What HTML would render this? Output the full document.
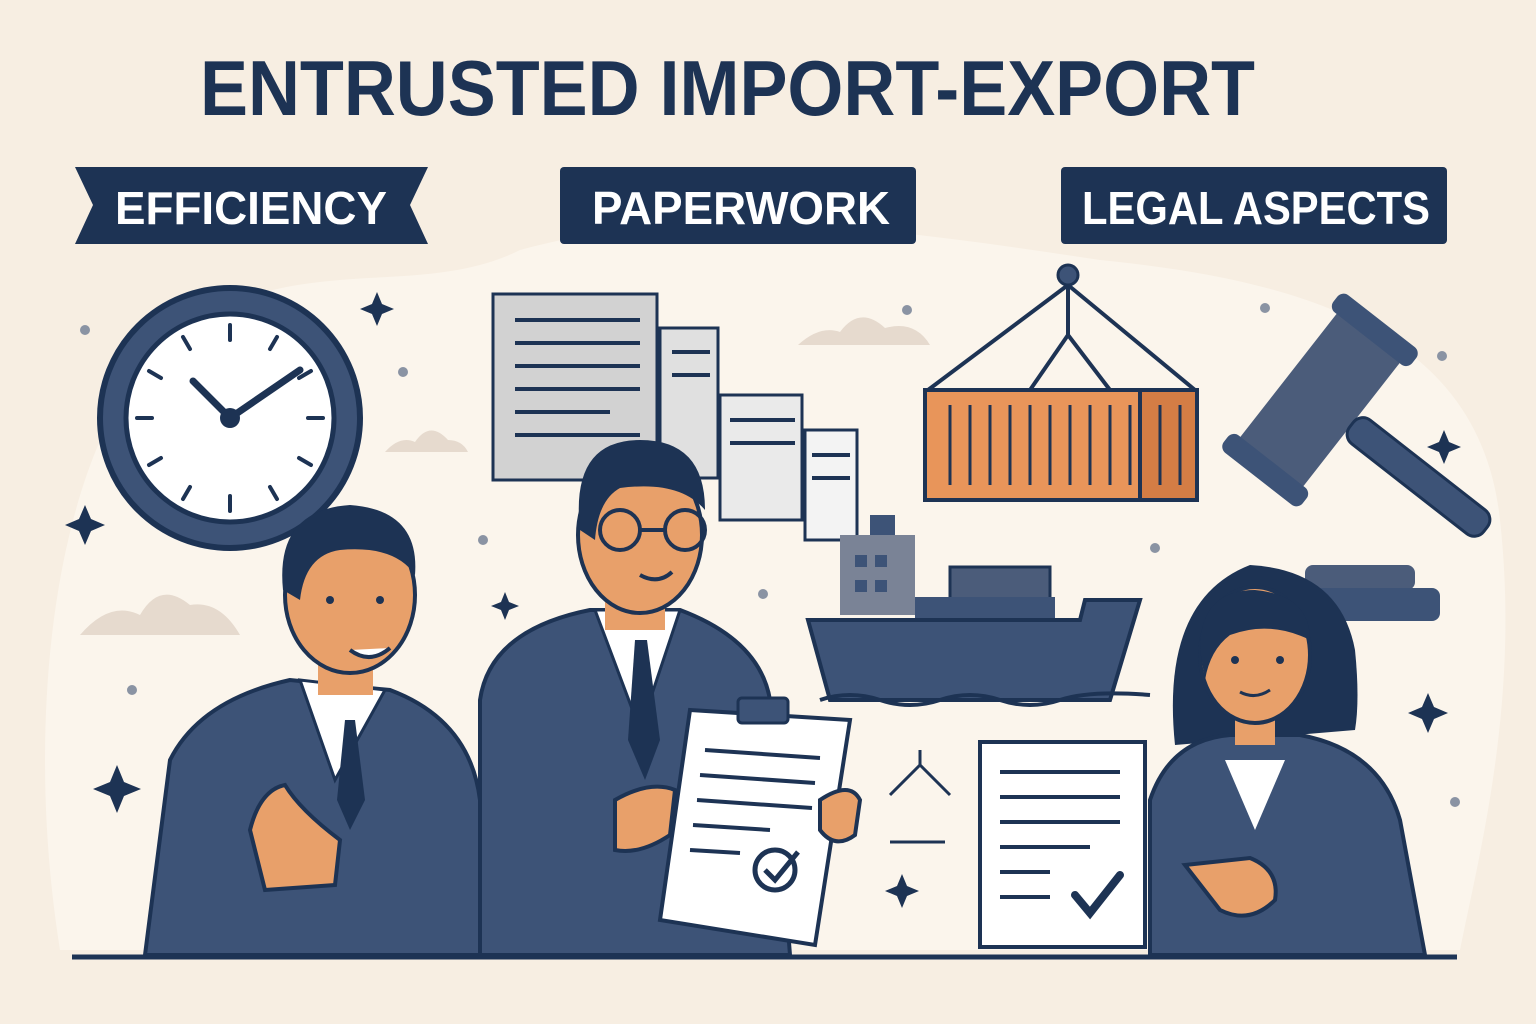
<!DOCTYPE html>
<html><head><meta charset="utf-8"><style>
html,body{margin:0;padding:0;background:#f7eee2;}
svg{display:block}
text{font-family:"Liberation Sans",sans-serif;font-weight:bold}
</style></head><body>
<svg width="1536" height="1024" viewBox="0 0 1536 1024" xmlns="http://www.w3.org/2000/svg">
<rect width="1536" height="1024" fill="#f7eee2"/>
<path d="M60 950 C20 700 60 420 180 330 C300 250 420 300 520 250 C700 200 900 230 1100 260 C1300 280 1480 330 1500 520 C1520 700 1480 850 1460 950 Z" fill="#fbf5ec"/>
<text x="200" y="115" font-size="78" fill="#1d3354" textLength="1055" lengthAdjust="spacingAndGlyphs">ENTRUSTED IMPORT-EXPORT</text>
<path d="M75 167 H428 L410 205 L428 244 H75 L93 205 Z" fill="#1d3354"/>
<text x="115" y="224" font-size="46" fill="#fff" textLength="272" lengthAdjust="spacingAndGlyphs">EFFICIENCY</text>
<rect x="560" y="167" width="356" height="77" rx="4" fill="#1d3354"/>
<text x="592" y="224" font-size="46" fill="#fff" textLength="298" lengthAdjust="spacingAndGlyphs">PAPERWORK</text>
<rect x="1061" y="167" width="386" height="77" rx="4" fill="#1d3354"/>
<text x="1082" y="224" font-size="46" fill="#fff" textLength="348" lengthAdjust="spacingAndGlyphs">LEGAL ASPECTS</text>
<g fill="#e6dace">
<path d="M80 635 Q110 600 140 615 Q160 580 190 605 Q220 600 240 635 Z"/>
<path d="M385 452 Q400 435 415 442 Q430 420 448 440 Q462 440 468 452 Z"/>
<path d="M798 345 Q820 325 840 332 Q860 305 885 328 Q915 320 930 345 Z"/>
</g>
<g fill="#8a93a3"><circle cx="85" cy="330" r="5"/><circle cx="403" cy="372" r="5"/><circle cx="132" cy="690" r="5"/><circle cx="483" cy="540" r="5"/><circle cx="763" cy="594" r="5"/><circle cx="1155" cy="548" r="5"/><circle cx="1265" cy="308" r="5"/><circle cx="1442" cy="356" r="5"/><circle cx="1455" cy="802" r="5"/><circle cx="907" cy="310" r="5"/></g>
<g fill="#1d3354">
<path d="M377 292 l5 12 12 5 -12 5 -5 12 -5 -12 -12 -5 12 -5z"/>
<path d="M85 505 l6 14 14 6 -14 6 -6 14 -6 -14 -14 -6 14 -6z"/>
<path d="M117 765 l7 17 17 7 -17 7 -7 17 -7 -17 -17 -7 17 -7z"/>
<path d="M505 592 l4 10 10 4 -10 4 -4 10 -4 -10 -10 -4 10 -4z"/>
<path d="M1444 430 l5 12 12 5 -12 5 -5 12 -5 -12 -12 -5 12 -5z"/>
<path d="M1428 693 l6 14 14 6 -14 6 -6 14 -6 -14 -14 -6 14 -6z"/>
<path d="M902 874 l5 12 12 5 -12 5 -5 12 -5 -12 -12 -5 12 -5z"/>
</g>
<circle cx="230" cy="418" r="130" fill="#3d5377" stroke="#1d3354" stroke-width="6"/>
<circle cx="230" cy="418" r="104" fill="#fff" stroke="#1d3354" stroke-width="5"/>
<g stroke="#1d3354" stroke-width="4" stroke-linecap="round">
<line x1="230" y1="325" x2="230" y2="340"/><line x1="230" y1="496" x2="230" y2="511"/>
<line x1="137" y1="418" x2="152" y2="418"/><line x1="308" y1="418" x2="323" y2="418"/>
<line x1="183" y1="337" x2="190" y2="349"/><line x1="277" y1="337" x2="270" y2="349"/>
<line x1="149" y1="371" x2="161" y2="378"/><line x1="311" y1="371" x2="299" y2="378"/>
<line x1="149" y1="465" x2="161" y2="458"/><line x1="311" y1="465" x2="299" y2="458"/>
<line x1="183" y1="499" x2="190" y2="487"/><line x1="277" y1="499" x2="270" y2="487"/>
<line x1="230" y1="418" x2="193" y2="381" stroke-width="7"/><line x1="230" y1="418" x2="300" y2="370" stroke-width="7"/>
</g>
<circle cx="230" cy="418" r="10" fill="#1d3354"/>
<g stroke="#1d3354" stroke-width="3">
<rect x="805" y="430" width="52" height="110" fill="#f3f3f3"/>
<rect x="720" y="395" width="82" height="125" fill="#eaeaea"/>
<rect x="660" y="328" width="58" height="150" fill="#e0e0e0"/>
<rect x="493" y="294" width="164" height="186" fill="#d2d2d2"/>
</g>
<g stroke="#1d3354" stroke-width="4">
<line x1="515" y1="320" x2="640" y2="320"/><line x1="515" y1="343" x2="640" y2="343"/><line x1="515" y1="366" x2="640" y2="366"/><line x1="515" y1="389" x2="640" y2="389"/><line x1="515" y1="412" x2="610" y2="412"/><line x1="515" y1="435" x2="640" y2="435"/>
<line x1="672" y1="352" x2="710" y2="352"/><line x1="672" y1="375" x2="710" y2="375"/><line x1="730" y1="420" x2="795" y2="420"/><line x1="730" y1="443" x2="795" y2="443"/>
<line x1="812" y1="455" x2="850" y2="455"/><line x1="812" y1="478" x2="850" y2="478"/>
</g>
<g stroke="#1d3354" stroke-width="4" fill="none">
<line x1="1068" y1="285" x2="928" y2="390"/><line x1="1068" y1="285" x2="1195" y2="390"/>
<line x1="1068" y1="335" x2="1030" y2="390"/><line x1="1068" y1="335" x2="1110" y2="390"/>
<line x1="1068" y1="272" x2="1068" y2="335"/>
</g>
<circle cx="1068" cy="275" r="10" fill="#3d5377" stroke="#1d3354" stroke-width="3"/>
<rect x="925" y="390" width="272" height="110" fill="#e8955a" stroke="#1d3354" stroke-width="4"/>
<rect x="1140" y="390" width="57" height="110" fill="#d47d45" stroke="#1d3354" stroke-width="4"/>
<g stroke="#1d3354" stroke-width="3">
<line x1="950" y1="405" x2="950" y2="485"/><line x1="970" y1="405" x2="970" y2="485"/><line x1="990" y1="405" x2="990" y2="485"/><line x1="1010" y1="405" x2="1010" y2="485"/><line x1="1030" y1="405" x2="1030" y2="485"/><line x1="1050" y1="405" x2="1050" y2="485"/><line x1="1070" y1="405" x2="1070" y2="485"/><line x1="1090" y1="405" x2="1090" y2="485"/><line x1="1110" y1="405" x2="1110" y2="485"/><line x1="1130" y1="405" x2="1130" y2="485"/><line x1="1160" y1="405" x2="1160" y2="485"/><line x1="1180" y1="405" x2="1180" y2="485"/>
</g>
<rect x="870" y="515" width="25" height="25" fill="#3d5377"/>
<rect x="840" y="535" width="75" height="80" fill="#7a8396"/>
<g fill="#3d5377"><rect x="855" y="555" width="12" height="12"/><rect x="875" y="555" width="12" height="12"/><rect x="855" y="580" width="12" height="12"/><rect x="875" y="580" width="12" height="12"/></g>
<rect x="950" y="567" width="100" height="50" fill="#4b5c7a" stroke="#1d3354" stroke-width="3"/>
<rect x="915" y="597" width="140" height="25" fill="#3d5377"/>
<path d="M808 620 H1080 L1085 600 H1140 L1110 700 H830 Z" fill="#3d5377" stroke="#1d3354" stroke-width="4"/>
<path d="M820 700 Q850 690 880 700 T940 700 T1000 700 T1060 700 T1150 695" stroke="#1d3354" stroke-width="4" fill="none"/>
<!-- gavel -->
<g transform="rotate(-52 1320 400)">
<rect x="1235" y="360" width="170" height="80" rx="8" fill="#4b5c7a"/>
<rect x="1220" y="350" width="22" height="100" rx="8" fill="#3d5377"/>
<rect x="1398" y="350" width="22" height="100" rx="8" fill="#3d5377"/>
<rect x="1305" y="440" width="30" height="170" rx="12" fill="#3d5377" stroke="#1d3354" stroke-width="3"/>
</g>
<rect x="1305" y="565" width="110" height="25" rx="8" fill="#4b5c7a"/>
<rect x="1295" y="588" width="145" height="33" rx="8" fill="#3d5377"/>
<g stroke="#1d3354" stroke-width="3" fill="none"><path d="M890 795 L920 765 L950 795"/><line x1="920" y1="765" x2="920" y2="750"/><line x1="890" y1="842" x2="945" y2="842"/></g>
<rect x="980" y="742" width="165" height="205" fill="#fff" stroke="#1d3354" stroke-width="4"/>
<g stroke="#1d3354" stroke-width="4"><line x1="1000" y1="772" x2="1120" y2="772"/><line x1="1000" y1="797" x2="1120" y2="797"/><line x1="1000" y1="822" x2="1120" y2="822"/><line x1="1000" y1="847" x2="1090" y2="847"/><line x1="1000" y1="872" x2="1050" y2="872"/><line x1="1000" y1="897" x2="1050" y2="897"/></g>
<path d="M1075 895 L1090 913 L1120 875" stroke="#1d3354" stroke-width="8" fill="none" stroke-linecap="round"/>
<path d="M145 955 L170 760 Q200 700 290 680 L390 690 Q470 720 480 800 L500 955 Z" fill="#3d5377" stroke="#1d3354" stroke-width="4"/>
<path d="M300 680 L335 780 L385 690 Z" fill="#fff" stroke="#1d3354" stroke-width="3"/>
<path d="M345 720 L355 720 L365 800 L350 830 L337 800 Z" fill="#1d3354"/>
<rect x="318" y="640" width="55" height="55" fill="#e8a06a"/>
<ellipse cx="350" cy="595" rx="65" ry="78" fill="#e8a06a" stroke="#1d3354" stroke-width="4"/>
<path d="M283 590 Q275 510 350 505 Q420 510 415 575 Q395 545 340 550 Q305 555 300 600 Z" fill="#1d3354"/>
<path d="M350 650 Q370 665 390 648" stroke="#1d3354" stroke-width="4" fill="#fff"/>
<circle cx="330" cy="600" r="4" fill="#1d3354"/><circle cx="380" cy="600" r="4" fill="#1d3354"/>
<path d="M250 830 Q260 790 285 785 Q300 810 340 840 L335 885 L265 890 Z" fill="#e8a06a" stroke="#1d3354" stroke-width="4"/>
<path d="M480 955 L480 700 Q490 630 590 610 L680 610 Q760 640 770 700 L790 955 Z" fill="#3d5377" stroke="#1d3354" stroke-width="4"/>
<path d="M595 610 L640 730 L680 610 Z" fill="#fff" stroke="#1d3354" stroke-width="3"/>
<path d="M635 640 L647 640 L660 740 L645 780 L628 740 Z" fill="#1d3354"/>
<rect x="605" y="580" width="60" height="50" fill="#e8a06a"/>
<ellipse cx="640" cy="535" rx="62" ry="78" fill="#e8a06a" stroke="#1d3354" stroke-width="4"/>
<path d="M580 530 Q570 440 640 440 Q705 440 705 510 Q680 480 620 488 Q598 500 595 540 Z" fill="#1d3354"/>
<g stroke="#1d3354" stroke-width="4" fill="none"><circle cx="620" cy="530" r="20"/><circle cx="685" cy="530" r="20"/><line x1="640" y1="530" x2="665" y2="530"/></g>
<path d="M640 575 Q658 585 672 572" stroke="#1d3354" stroke-width="4" fill="none"/>
<path d="M690 710 L850 720 L815 945 L660 920 Z" fill="#fff" stroke="#1d3354" stroke-width="4"/>
<rect x="738" y="698" width="50" height="25" rx="4" fill="#3d5377" stroke="#1d3354" stroke-width="3"/>
<g stroke="#1d3354" stroke-width="4"><line x1="705" y1="750" x2="820" y2="758"/><line x1="700" y1="775" x2="815" y2="783"/><line x1="697" y1="800" x2="812" y2="808"/><line x1="693" y1="825" x2="770" y2="830"/><line x1="690" y1="850" x2="740" y2="853"/></g>
<circle cx="775" cy="870" r="20" fill="none" stroke="#1d3354" stroke-width="5"/>
<path d="M765 870 L775 880 L798 852" stroke="#1d3354" stroke-width="5" fill="none"/>
<path d="M615 800 Q650 780 675 790 L670 835 Q640 855 615 850 Z" fill="#e8a06a" stroke="#1d3354" stroke-width="4"/>
<path d="M820 800 Q850 780 860 800 L855 835 Q835 850 820 830 Z" fill="#e8a06a" stroke="#1d3354" stroke-width="4"/>
<path d="M1175 745 Q1160 600 1250 565 Q1340 570 1355 650 Q1360 700 1355 730 Z" fill="#1d3354"/>
<path d="M1150 955 L1150 800 Q1170 740 1230 735 L1300 735 Q1380 750 1400 820 L1425 955 Z" fill="#3d5377" stroke="#1d3354" stroke-width="4"/>
<path d="M1225 760 L1255 830 L1285 760 Z" fill="#fff"/>
<rect x="1235" y="700" width="40" height="45" fill="#e8a06a"/>
<ellipse cx="1255" cy="655" rx="55" ry="68" fill="#e8a06a" stroke="#1d3354" stroke-width="4"/>
<path d="M1200 650 Q1200 590 1255 590 Q1310 595 1310 640 Q1270 620 1230 635 Q1210 650 1205 680 Z" fill="#1d3354"/>
<circle cx="1235" cy="660" r="4" fill="#1d3354"/><circle cx="1280" cy="660" r="4" fill="#1d3354"/>
<path d="M1240 692 Q1255 700 1270 690" stroke="#1d3354" stroke-width="3" fill="none"/>
<path d="M1185 865 L1250 858 Q1280 870 1275 900 Q1250 925 1220 910 Z" fill="#e8a06a" stroke="#1d3354" stroke-width="4"/>
<line x1="72" y1="957" x2="1457" y2="957" stroke="#1d3354" stroke-width="5"/>
</svg>
</body></html>
